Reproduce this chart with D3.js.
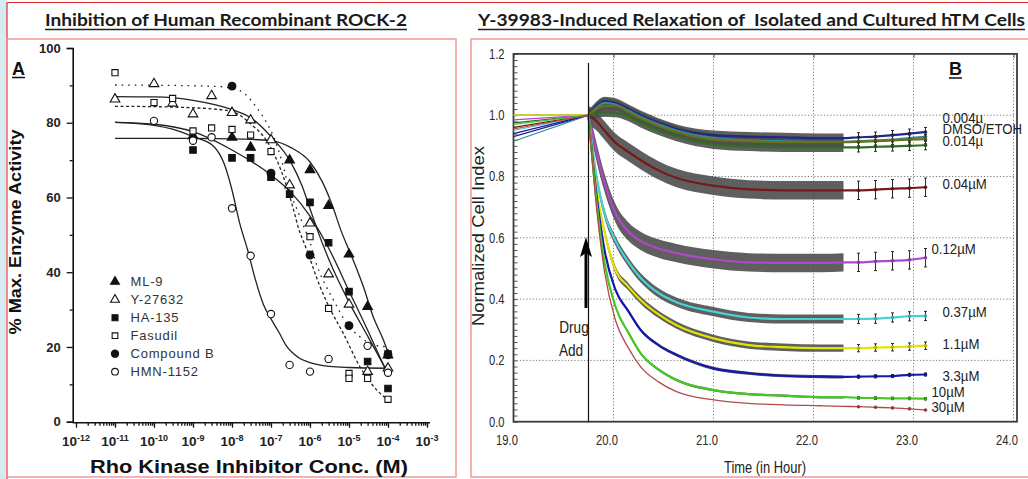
<!DOCTYPE html>
<html>
<head>
<meta charset="utf-8">
<script src="https://cdn.jsdelivr.net/npm/d3@7"></script>
<style>
  body { margin: 0; background: #fff; }
  svg { display: block; }
  .narrow { font-family: "Liberation Sans Narrow", "Liberation Sans", Arial, sans-serif; }
  .arial { font-family: "Liberation Sans", Arial, sans-serif; }
</style>
</head>
<body>
<svg id="fig" width="1028" height="479"></svg>
<script>
// ---------- Panel A : ROCK-2 inhibition ----------
const compounds = ["ML-9", "Y-27632", "HA-135", "Fasudil", "Compound B", "HMN-1152"];

const ml9Conc = [1e-9, 1e-8, 3e-8, 3e-7, 1e-6, 3e-6, 1e-5, 3e-5, 1e-4];
const ml9Pct  = [76.5, 76.1, 73.4, 70.0, 67.4, 57.8, 44.8, 30.8, 17.8];
const y27Conc = [1e-11, 1e-10, 3e-10, 1e-9, 3e-9, 1e-8, 3e-8, 1e-7, 3e-7, 1e-6, 3e-6, 1e-5, 3e-5, 1e-4];
const y27Pct  = [86.3, 90.4, 85.2, 82.3, 87.2, 82.7, 80.7, 75.4, 63.3, 53.1, 39.5, 31.4, 13.4, 14.3];
const ha135Conc = [1e-9, 1e-8, 3e-8, 1e-7, 3e-7, 1e-6, 3e-6, 1e-5, 3e-5, 1e-4, 1e-4];
const ha135Pct  = [72.7, 70.6, 70.6, 65.4, 60.9, 58.7, 47.9, 34.8, 16.1, 18.1, 8.9];
const fasConc = [1e-11, 1e-10, 3e-10, 1e-9, 3e-9, 1e-8, 3e-8, 1e-7, 1e-6, 3e-6, 1e-5, 1e-5, 3e-5, 1e-4];
const fasPct  = [93.4, 85.4, 86.5, 77.8, 78.6, 78.2, 76.7, 72.3, 49.5, 30.3, 12.9, 11.6, 11.6, 6.0];
const cpdBConc = [1e-8, 1e-7, 1e-6, 1e-5, 1e-4];
const cpdBPct  = [89.8, 66.5, 44.6, 25.7, 17.9];
const hmnConc = [1e-10, 1e-9, 3e-9, 1e-8, 3e-8, 1e-7, 3e-7, 1e-6, 3e-6, 3e-5, 1e-4];
const hmnPct  = [80.5, 75.2, 76.1, 57.1, 44.4, 28.8, 15.2, 13.4, 16.8, 20.3, 13.1];

// fitted curves (log10 of molar conc. / %)
const fitMl9Log = [-11, -9, -8, -7, -6.5, -6, -5.7, -5.45, -5.2, -4.93, -4.63, -4.38, -4.12, -3.97];
const fitMl9Pct = [75.8, 75.8, 75.7, 75.2, 73.4, 69.5, 64.5, 58.5, 51, 44.2, 36.1, 28.1, 21.9, 17.6];
const fitY27Log = [-11, -10, -9, -8, -7.5, -7, -6.5, -6.2, -6, -5.8, -5.5, -5, -4.5, -4];
const fitY27Pct = [87, 86.9, 86, 83.5, 81.2, 76.3, 69.6, 63, 57, 51, 43, 32, 22.5, 13];
const fitHaLog  = [-11, -10, -9, -8, -7, -6.5, -6, -5.5, -5, -4.5, -4];
const fitHaPct  = [80.1, 79.6, 77.6, 72.7, 66, 61.5, 55, 46, 35, 24, 12.5];
const fitFasLog = [-11, -10, -9, -8.5, -8, -7.5, -7.1, -6.85, -6.6, -6.43, -6.3, -6.08, -5.74, -5.49, -5.15, -4.72, -4.29, -3.99];
const fitFasPct = [84.4, 84.3, 84, 83.7, 83, 79.5, 75, 70, 63, 57, 52, 45.9, 36.1, 30.3, 23.7, 14.7, 8.5, 5.8];
const fitCpdBLog = [-11, -9, -8.2, -8, -7.7, -7.4, -7.1, -6.94, -6.73, -6.5, -6.34, -6.15, -6, -5.83, -5.6, -5.4, -5.06, -4.72, -4.4, -4];
const fitCpdBPct = [90.1, 89.9, 89.6, 89.2, 88, 84.5, 79.8, 76.5, 70, 61, 57, 52, 48, 42, 36.5, 32.6, 26.3, 22.7, 20.7, 20];
const fitHmnLog = [-11, -10, -9.5, -9, -8.5, -8.2, -8, -7.8, -7.6, -7.4, -7.2, -7, -6.8, -6.6, -6.3, -6, -5.5, -5, -4];
const fitHmnPct = [80.1, 79.3, 78.2, 76.3, 74, 69, 62, 53, 46, 38, 31.5, 27.5, 24, 20.2, 17.2, 15.8, 14.8, 14.5, 14.3];

const yTicksA = [0, 20, 40, 60, 80, 100];
const xDecadesA = [1e-12, 1e-11, 1e-10, 1e-9, 1e-8, 1e-7, 1e-6, 1e-5, 1e-4, 1e-3];

// ---------- Panel B : Y-39983 relaxation ----------
const preTime = 19.0;
const denseTime = [19.75, 19.83, 19.91, 20.02, 20.15, 20.27, 20.45, 20.63, 21.0, 21.35, 21.7, 22.07, 22.3];
const sparseTime = [22.45, 22.62, 22.79, 22.96, 23.12];

const doseLabels = ["0.004\u00b5", "DMSO/ETOH", "", "0.014\u00b5", "0.04\u00b5M", "0.12\u00b5M", "0.37\u00b5M", "1.1\u00b5M", "3.3\u00b5M", "10\u00b5M", "30\u00b5M"];
const preValues = [0.93, 0.915, 1.0, 0.975, 0.96, 0.985, 0.95, 1.0, 0.94, 0.97, 0.955];
const denseValues = [
  [1.0, 1.03, 1.045, 1.04, 1.02, 1.0, 0.975, 0.955, 0.935, 0.93, 0.928, 0.925, 0.925],
  [1.0, 1.025, 1.04, 1.035, 1.015, 0.995, 0.97, 0.95, 0.925, 0.918, 0.915, 0.913, 0.913],
  [1.0, 1.02, 1.03, 1.03, 1.01, 0.99, 0.965, 0.945, 0.92, 0.915, 0.912, 0.912, 0.912],
  [1.0, 1.005, 1.01, 1.008, 0.995, 0.975, 0.95, 0.93, 0.905, 0.898, 0.895, 0.895, 0.895],
  [1.0, 0.98, 0.95, 0.91, 0.88, 0.854, 0.82, 0.795, 0.77, 0.758, 0.755, 0.755, 0.755],
  [1.0, 0.88, 0.78, 0.68, 0.62, 0.59, 0.565, 0.55, 0.53, 0.52, 0.518, 0.518, 0.52],
  [1.0, 0.80, 0.68, 0.59, 0.52, 0.47, 0.42, 0.39, 0.359, 0.34, 0.335, 0.335, 0.335],
  [1.0, 0.76, 0.62, 0.495, 0.44, 0.397, 0.35, 0.315, 0.272, 0.25, 0.243, 0.24, 0.24],
  [1.0, 0.74, 0.56, 0.43, 0.36, 0.30, 0.25, 0.218, 0.174, 0.158, 0.15, 0.147, 0.146],
  [1.0, 0.72, 0.52, 0.375, 0.29, 0.224, 0.17, 0.136, 0.103, 0.09, 0.085, 0.08, 0.08],
  [1.0, 0.70, 0.49, 0.33, 0.24, 0.18, 0.13, 0.098, 0.071, 0.06, 0.055, 0.052, 0.05]
];
const sparseValues = [
  [0.928, 0.93, 0.935, 0.94, 0.945],
  [0.915, 0.918, 0.92, 0.925, 0.93],
  [0.913, 0.915, 0.918, 0.92, 0.922],
  [0.895, 0.897, 0.898, 0.9, 0.902],
  [0.755, 0.757, 0.76, 0.762, 0.765],
  [0.52, 0.523, 0.525, 0.528, 0.535],
  [0.335, 0.336, 0.34, 0.344, 0.345],
  [0.24, 0.242, 0.243, 0.245, 0.248],
  [0.147, 0.148, 0.149, 0.153, 0.154],
  [0.078, 0.077, 0.076, 0.076, 0.075],
  [0.049, 0.047, 0.045, 0.042, 0.038]
];
const sdValues = [0.015, 0.015, 0.015, 0.015, 0.03, 0.03, 0.015, 0.012, 0.005, 0.004, 0];
const labelValues = [0.99, 0.954, null, 0.916, 0.775, 0.563, 0.359, 0.254, 0.149, 0.098, 0.047];
const yTicksB = [0, 0.2, 0.4, 0.6, 0.8, 1.0, 1.2];
const xTicksB = [19, 20, 21, 22, 23, 24];
const drugTime = 19.75;

// ---------- styles ----------
const lineColors = ["#24248a", "#2f8c8c", "#6f6f14", "#2d6e22", "#7a1818", "#b048cc", "#48d2d2", "#e4e400", "#1818b0", "#46c824", "#b24a4a"];
const labelTimes = [23.29, 23.29, 0, 23.29, 23.29, 23.18, 23.29, 23.29, 23.29, 23.18, 23.18];

// squeeze text horizontally (the figure uses a narrow face)
function condense(sel, k) {
  sel.each(function () {
    const w = this.getComputedTextLength();
    d3.select(this).attr("textLength", w * k).attr("lengthAdjust", "spacingAndGlyphs");
  });
}

const svg = d3.select("#fig");

// page decoration
svg.append("rect").attr("x", 0).attr("y", 0).attr("width", 7).attr("height", 479).attr("fill", "#d6eaf2");
svg.append("line").attr("x1", 7).attr("x2", 1028).attr("y1", 2.5).attr("y2", 2.5).attr("stroke", "#e82a2a").attr("stroke-width", 1.2);
svg.append("line").attr("x1", 7).attr("x2", 7).attr("y1", 2.5).attr("y2", 479).attr("stroke", "#e82a2a").attr("stroke-width", 1.2);
svg.append("rect").attr("x", 7).attr("y", 39).attr("width", 449).attr("height", 438)
  .attr("fill", "none").attr("stroke", "#f39090").attr("stroke-width", 1.4);
svg.append("rect").attr("x", 471).attr("y", 39).attr("width", 560).attr("height", 438)
  .attr("fill", "none").attr("stroke", "#f39090").attr("stroke-width", 1.4);

// titles
function title(txt, x0, x1) {
  svg.append("text").attr("x", x0).attr("y", 25.5)
    .attr("font-family", "Lato, 'Open Sans', sans-serif").attr("font-weight", 700).attr("font-size", 17)
    .attr("fill", "#1a1a1a").style("white-space", "pre")
    .attr("textLength", x1 - x0).attr("lengthAdjust", "spacingAndGlyphs").text(txt);
  svg.append("line").attr("x1", x0).attr("x2", x1).attr("y1", 29.5).attr("y2", 29.5)
    .attr("stroke", "#222").attr("stroke-width", 1.4);
}
title("Inhibition of Human Recombinant ROCK-2", 45, 407);
title("Y-39983-Induced Relaxation of  Isolated and Cultured hTM Cells", 478, 1025);

// ================= Panel A =================
const xA = d3.scaleLog().domain([1e-12, 1e-3]).range([76, 427]);
const yA = d3.scaleLinear().domain([0, 100]).range([421.7, 48]);
const gA = svg.append("g").attr("class", "arial");

// y axis
const yAxisA = gA.append("g").attr("transform", "translate(72.7,0)")
  .call(d3.axisLeft(yA).tickValues(yTicksA).tickSize(6).tickPadding(6).tickFormat(d3.format("d")));
gA.append("g").attr("transform", "translate(72.7,0)")
  .call(d3.axisLeft(yA).tickValues([10, 30, 50, 70, 90]).tickSize(3).tickFormat(""))
  .call(g => g.select(".domain").remove());
yAxisA.selectAll("text").attr("font-size", 13).attr("font-weight", 700).attr("fill", "#222");

// x axis
const minorA = [];
xDecadesA.slice(0, -1).forEach(d => { for (let k = 2; k <= 9; k++) minorA.push(k * d); });
gA.append("g").attr("transform", "translate(0,422.7)")
  .call(d3.axisBottom(xA).tickValues(xDecadesA).tickSize(5).tickFormat(""))
  .call(g => g.select(".domain").remove());
gA.append("g").attr("transform", "translate(0,422.7)")
  .call(d3.axisBottom(xA).tickValues(minorA).tickSize(3).tickFormat(""))
  .call(g => g.select(".domain").remove());
gA.append("line").attr("x1", 72.7).attr("x2", 430).attr("y1", 422.7).attr("y2", 422.7)
  .attr("stroke", "#111").attr("stroke-width", 1.6);
gA.selectAll(".tick line").attr("stroke", "#111").attr("stroke-width", 1.3);
yAxisA.select(".domain").attr("stroke", "#111").attr("stroke-width", 1.6);

gA.selectAll(".xlab").data(xDecadesA).join("text").attr("class", "xlab")
  .attr("x", d => xA(d)).attr("y", 445.5).attr("text-anchor", "middle")
  .attr("font-size", 13.5).attr("font-weight", 700).attr("fill", "#222")
  .call(t => {
    t.append("tspan").text("10");
    t.append("tspan").attr("dy", -5).attr("font-size", 9).text(d => Math.round(Math.log10(d)));
  });

// axis titles
gA.append("text").attr("x", 249).attr("y", 473).attr("text-anchor", "middle")
  .attr("font-size", 18).attr("font-weight", 700).attr("fill", "#111")
  .attr("textLength", 318).attr("lengthAdjust", "spacingAndGlyphs").text("Rho Kinase Inhibitor Conc. (M)");
gA.append("text").attr("transform", "translate(21,232) rotate(-90)").attr("text-anchor", "middle")
  .attr("font-size", 17).attr("font-weight", 700).attr("fill", "#111")
  .attr("textLength", 205).attr("lengthAdjust", "spacingAndGlyphs").text("% Max. Enzyme Activity");
gA.append("text").attr("x", 12).attr("y", 75).attr("font-size", 18).attr("font-weight", 700)
  .attr("fill", "#111").text("A");
gA.append("line").attr("x1", 12).attr("x2", 25).attr("y1", 77.5).attr("y2", 77.5).attr("stroke", "#111").attr("stroke-width", 1.5);

// fitted curves
const fitLine = d3.line().x(d => xA(Math.pow(10, d[0]))).y(d => yA(d[1])).curve(d3.curveMonotoneX);
const fits = [
  { log: fitMl9Log, pct: fitMl9Pct, dash: null },
  { log: fitY27Log, pct: fitY27Pct, dash: null },
  { log: fitHaLog, pct: fitHaPct, dash: null },
  { log: fitFasLog, pct: fitFasPct, dash: "3,2.5" },
  { log: fitCpdBLog, pct: fitCpdBPct, dash: "1.6,5" },
  { log: fitHmnLog, pct: fitHmnPct, dash: null }
];
gA.selectAll(".fit").data(fits).join("path").attr("class", "fit")
  .attr("d", f => fitLine(d3.zip(f.log, f.pct)))
  .attr("fill", "none").attr("stroke", "#222").attr("stroke-width", 1.3)
  .attr("stroke-dasharray", f => f.dash);

// data points
const markers = [
  { type: d3.symbolTriangle, size: 40, filled: true },
  { type: d3.symbolTriangle, size: 40, filled: false },
  { type: d3.symbolSquare, size: 42, filled: true },
  { type: d3.symbolSquare, size: 38, filled: false },
  { type: d3.symbolCircle, size: 48, filled: true },
  { type: d3.symbolCircle, size: 42, filled: false }
];
const pointSets = [
  d3.zip(ml9Conc, ml9Pct), d3.zip(y27Conc, y27Pct), d3.zip(ha135Conc, ha135Pct),
  d3.zip(fasConc, fasPct), d3.zip(cpdBConc, cpdBPct), d3.zip(hmnConc, hmnPct)
];
pointSets.forEach((pts, i) => {
  const m = markers[i];
  gA.append("g").selectAll("path").data(pts).join("path")
    .attr("transform", d => `translate(${xA(d[0])},${yA(d[1])})`)
    .attr("d", d3.symbol(m.type, m.size))
    .attr("fill", m.filled ? "#111" : "#fff").attr("stroke", "#111").attr("stroke-width", 1.1);
});

// legend
const legA = gA.append("g");
compounds.forEach((name, i) => {
  const yy = 281.7 + i * 18;
  const m = markers[i];
  legA.append("path").attr("transform", `translate(115,${yy})`)
    .attr("d", d3.symbol(m.type, m.size * 0.85))
    .attr("fill", m.filled ? "#111" : "#fff").attr("stroke", "#111").attr("stroke-width", 1.1);
  legA.append("text").attr("x", 130.5).attr("y", yy + 4.5).attr("font-size", 13)
    .attr("letter-spacing", 0.8).attr("fill", "#333").text(name);
});

// ================= Panel B =================
const xB = d3.scaleLinear().domain([19, 24]).range([513.5, 1013.5]);
const yB = d3.scaleLinear().domain([0, 1.2]).range([421.7, 53.9]);
const gB = svg.append("g").attr("class", "narrow");
const frameRight = 1017;

// grid
gB.selectAll(".vgrid").data(xTicksB.slice(1)).join("line").attr("class", "vgrid")
  .attr("x1", d => xB(d)).attr("x2", d => xB(d)).attr("y1", yB(0)).attr("y2", yB(1.2))
  .attr("stroke", "#7a7a7a").attr("stroke-width", 1).attr("stroke-dasharray", "1.2,2");
gB.selectAll(".hgrid").data(yTicksB.slice(1, -1)).join("line").attr("class", "hgrid")
  .attr("x1", xB(19)).attr("x2", frameRight).attr("y1", d => yB(d)).attr("y2", d => yB(d))
  .attr("stroke", "#7a7a7a").attr("stroke-width", 1).attr("stroke-dasharray", "1.2,2");

// minor ticks on the left axis and ticks on the top edge
gB.append("g").attr("transform", `translate(${xB(19)},0)`)
  .call(d3.axisRight(yB).ticks(60).tickSize(4).tickFormat(""))
  .call(g => g.select(".domain").remove())
  .selectAll("line").attr("stroke", "#555");
gB.append("g").attr("transform", `translate(0,${yB(1.2)})`)
  .call(d3.axisBottom(xB).tickValues(xTicksB).tickSize(4).tickFormat(""))
  .call(g => g.select(".domain").remove())
  .selectAll("line").attr("stroke", "#555");

// tick labels
gB.append("g").attr("transform", `translate(${xB(19)},0)`)
  .call(d3.axisLeft(yB).tickValues(yTicksB).tickSize(0).tickPadding(9).tickFormat(d3.format(".1f")))
  .call(g => g.select(".domain").remove())
  .selectAll("text").attr("font-size", 14).attr("fill", "#2a2a2a").attr("font-family", null)
  .call(condense, 0.8);
gB.append("g").attr("transform", `translate(0,${yB(0)})`)
  .call(d3.axisBottom(xB).tickValues(xTicksB).tickSize(0).tickPadding(13).tickFormat(d3.format(".1f")))
  .call(g => g.select(".domain").remove())
  .selectAll("text").attr("font-size", 14).attr("fill", "#2a2a2a").attr("dx", -7).attr("font-family", null)
  .call(condense, 0.8);

// frame
gB.append("rect").attr("x", xB(19)).attr("y", yB(1.2))
  .attr("width", frameRight - xB(19)).attr("height", yB(0) - yB(1.2))
  .attr("fill", "none").attr("stroke", "#3c3c3c").attr("stroke-width", 1.8);

// axis titles
gB.append("text").attr("transform", "translate(484,236) rotate(-90)").attr("text-anchor", "middle")
  .attr("font-size", 17).attr("fill", "#222").attr("textLength", 180).attr("lengthAdjust", "spacingAndGlyphs")
  .text("Normalized Cell Index");
gB.append("text").attr("x", 765).attr("y", 473).attr("text-anchor", "middle")
  .attr("font-size", 17).attr("fill", "#222").attr("textLength", 82).attr("lengthAdjust", "spacingAndGlyphs")
  .text("Time (in Hour)");
gB.append("text").attr("x", 949).attr("y", 75).attr("font-size", 18).attr("font-weight", 700)
  .attr("font-family", "'Liberation Sans', Arial, sans-serif").attr("fill", "#111").text("B");
gB.append("line").attr("x1", 949).attr("x2", 962).attr("y1", 78).attr("y2", 78).attr("stroke", "#111").attr("stroke-width", 1.5);

// series records built from the arrays
const series = doseLabels.map((label, i) => ({
  label, color: lineColors[i], sd: sdValues[i],
  pre: [preTime, preValues[i]],
  dense: d3.zip(denseTime, denseValues[i]),
  sparse: d3.zip(sparseTime, sparseValues[i]),
  labelY: labelValues[i], labelT: labelTimes[i]
}));

// gray SD bands from the dense recording
const band = d3.area().x(d => xB(d[0])).y0(d => yB(d[1] - d[2])).y1(d => yB(d[1] + d[2])).curve(d3.curveMonotoneX);
gB.selectAll(".band").data(series.filter(s => s.sd > 0)).join("path").attr("class", "band")
  .attr("d", s => band(s.dense.map(d => [d[0], d[1], s.sd])))
  .attr("fill", "#4e4e4e").attr("opacity", 0.9);

// curves
const lineB = d3.line().x(d => xB(d[0])).y(d => yB(d[1])).curve(d3.curveMonotoneX);
const segB = d3.line().x(d => xB(d[0])).y(d => yB(d[1]));
series.forEach((s, i) => {
  gB.append("path").attr("d", segB([s.pre, s.dense[0]]))
    .attr("fill", "none").attr("stroke", s.color).attr("stroke-width", 1.2);
  gB.append("path").attr("d", lineB(s.dense.concat(s.sparse)))
    .attr("fill", "none").attr("stroke", s.color).attr("stroke-width", i === 10 ? 1.3 : 2.2);
});

// sparse error bars and points
series.forEach(s => {
  const g = gB.append("g");
  if (s.sd > 0) {
    g.selectAll(".eb").data(s.sparse).join("path").attr("class", "eb")
      .attr("d", d => {
        const x = xB(d[0]), y0 = yB(d[1] - s.sd), y1 = yB(d[1] + s.sd);
        return `M${x - 1.5},${y0}H${x + 1.5}M${x},${y0}V${y1}M${x - 1.5},${y1}H${x + 1.5}`;
      })
      .attr("fill", "none").attr("stroke", "#2a2a2a").attr("stroke-width", 1);
  }
  g.selectAll("circle").data(s.sparse).join("circle")
    .attr("cx", d => xB(d[0])).attr("cy", d => yB(d[1])).attr("r", 1.8)
    .attr("fill", d3.color(s.color).darker(0.6));
});

// drug addition marker
gB.append("line").attr("x1", xB(drugTime)).attr("x2", xB(drugTime)).attr("y1", 63).attr("y2", yB(0))
  .attr("stroke", "#111").attr("stroke-width", 1.2);
const ax = xB(drugTime) - 2.5;
gB.append("line").attr("x1", ax).attr("x2", ax).attr("y1", 308).attr("y2", 252)
  .attr("stroke", "#000").attr("stroke-width", 3);
gB.append("path").attr("d", `M${ax},237L${ax - 6},257L${ax},253L${ax + 6},257Z`).attr("fill", "#000");
gB.append("text").attr("x", 574).attr("y", 333).attr("text-anchor", "middle").attr("font-size", 17)
  .attr("fill", "#222").text("Drug").call(condense, 0.8);
gB.append("text").attr("x", 571).attr("y", 356).attr("text-anchor", "middle").attr("font-size", 17)
  .attr("fill", "#222").text("Add").call(condense, 0.8);

// dose labels (narrow face imitated with a horizontal squeeze)
gB.selectAll(".dose").data(series.filter(s => s.label)).join("text").attr("class", "dose")
  .attr("transform", s => `translate(${xB(s.labelT)},${yB(s.labelY) + 5})scale(0.88,1)`)
  .attr("font-size", 15).attr("fill", "#222").text(s => s.label);
</script>
</body>
</html>
